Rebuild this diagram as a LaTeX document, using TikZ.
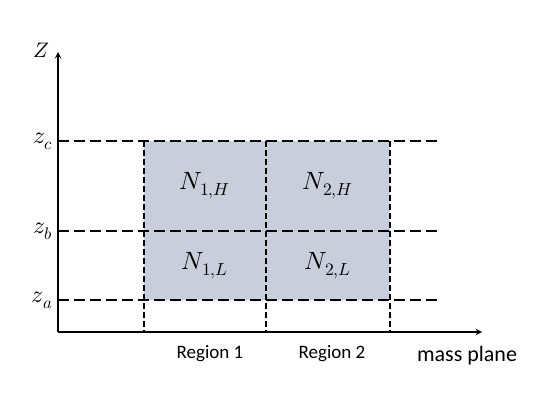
\documentclass[tikz,border=0pt]{standalone}
\usepackage{fontspec}
\usepackage{unicode-math}
\setmathfont{Latin Modern Math}
\setsansfont{Carlito}
\definecolor{cellfill}{RGB}{200,206,219}
\begin{document}
\begin{tikzpicture}[x=1pt, y=-1pt, >=stealth,
    axis/.style={line width=1.8pt},
    grid/.style={line width=1.5pt, dash pattern=on 11pt off 5pt},
    vgrid/.style={line width=1.5pt, dash pattern=on 6pt off 3pt},
    lvl/.style={font=\fontsize{24}{26}\selectfont, anchor=east},
    cell/.style={font=\fontsize{25}{27}\selectfont},
    region/.style={font=\sffamily\fontsize{19}{21}\selectfont}]
    \useasboundingbox (0,0) rectangle (545,409);
    % shaded cells
    \fill[cellfill] (144,141) rectangle (390,300);
    % axes
    \coordinate (O) at (58,332);
    \coordinate (ztip) at (58,52);
    \coordinate (mtip) at (482,332);
    \draw[axis, ->] (O) -- (ztip);
    \draw[axis, ->] (O) -- (mtip);
    \node (zlab) at (41,50) {\fontsize{21}{23}\selectfont$Z$};
    % levels
    \node[lvl] (zc) at (56,141) {$z_c$};
    \node[lvl] (zb) at (56,231) {$z_b$};
    \node[lvl] (za) at (56,300) {$z_a$};
    \coordinate (zce) at (442,141);
    \coordinate (zbe) at (442,231);
    \coordinate (zae) at (442,300);
    \draw[grid] (58,141) -- (zce);
    \draw[grid] (58,231) -- (zbe);
    \draw[grid] (58,300) -- (zae);
    % region borders
    \foreach \xx in {144,266,390}
        \draw[vgrid] (\xx,141) -- (\xx,332);
    % cell labels
    \node[cell] (n1h) at (205,186) {$N_{1,H}$};
    \node[cell] (n2h) at (328,186) {$N_{2,H}$};
    \node[cell] (n1l) at (205,266) {$N_{1,L}$};
    \node[cell] (n2l) at (328,266) {$N_{2,L}$};
    % axis labels
    \node[region] (r1) at (210,354) {Region 1};
    \node[region] (r2) at (332,354) {Region 2};
    \node[region, font=\sffamily\fontsize{22}{24}\selectfont] (mass) at (467,356) {mass plane};
\end{tikzpicture}
\end{document}
